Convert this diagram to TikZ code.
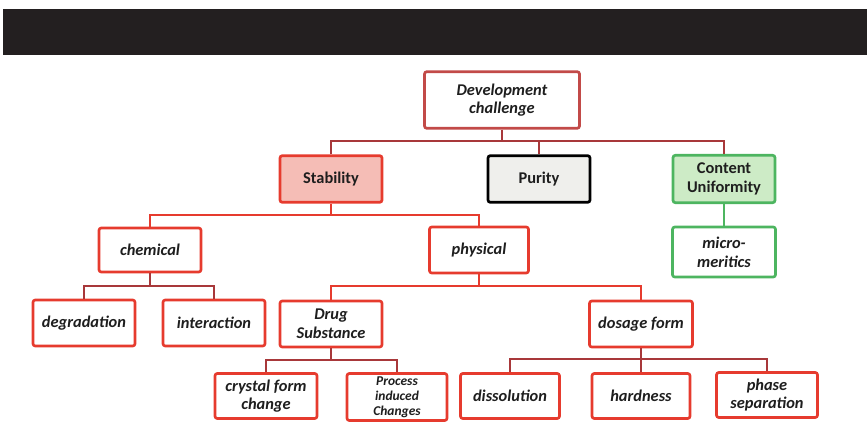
\documentclass[tikz,border=0pt]{standalone}
\usepackage{fontspec}
\setmainfont{Carlito}
\usepackage{tikz}
\usetikzlibrary{positioning}

\definecolor{boxred}{HTML}{E63B2E}
\definecolor{linedark}{HTML}{A8383A}
\definecolor{devred}{HTML}{C24A48}
\definecolor{stabfill}{HTML}{F5BDB6}
\definecolor{purfill}{HTML}{EFEFEC}
\definecolor{cugreen}{HTML}{4DB560}
\definecolor{cufill}{HTML}{CDEBC6}
\definecolor{barblack}{HTML}{231F20}
\definecolor{txt}{HTML}{1E1E1E}

\begin{document}
\begin{tikzpicture}[x=0.03cm, y=-0.03cm,
    every node/.style={rectangle, rounded corners=2pt, line width=2.3pt, align=center, inner sep=2pt,
        text=txt, font=\fontsize{14}{16}\selectfont\bfseries\itshape},
    redbox/.style={draw=boxred, fill=white, minimum width=3.06cm, minimum height=1.38cm},
    topbox/.style={minimum width=3.06cm, minimum height=1.4cm, font=\fontsize{14}{16}\selectfont\bfseries},
    redline/.style={draw=boxred, line width=2.3pt},
    darkline/.style={draw=linedark, line width=2.3pt},
    greenline/.style={draw=cugreen, line width=2.3pt}]

    \useasboundingbox (0,0) rectangle (867,424);

    % Header bar
    \fill[barblack] (3,9) rectangle (867,55);

    % Root
    \node (dev)[draw=devred, fill=white, minimum width=4.65cm, minimum height=1.7cm] at (502,100) {Development\\challenge};

    % Main challenges
    \node (stab)[topbox, draw=boxred, fill=stabfill] at (331,179) {Stability};
    \node (pur)[topbox, draw=black, fill=purfill] at (539,179) {Purity};
    \node (cu)[topbox, draw=cugreen, fill=cufill, minimum height=1.42cm] at (724,179) {Content\\Uniformity};
    \node (micro)[draw=cugreen, fill=white, minimum width=3.09cm, minimum height=1.5cm] at (724,252) {micro-\\meritics};

    % Stability branches
    \node (chem)[redbox, minimum height=1.32cm] at (150,250) {chemical};
    \node (phys)[redbox, minimum width=2.97cm] at (479,250) {physical};

    \node (degr)[redbox] at (84,323) {degradation};
    \node (inter)[redbox] at (214,323) {interaction};
    \node (drug)[redbox] at (331,324) {Drug\\Substance};
    \node (dose)[redbox, minimum width=3.09cm] at (641,324) {dosage form};

    % Bottom row
    \node (cryst)[redbox, minimum height=1.35cm] at (266,396) {crystal form\\change};
    \node (proc)[redbox, minimum width=3cm, minimum height=1.41cm, inner sep=0pt,
        font=\fontsize{11.5}{13}\selectfont\bfseries\itshape] at (397,397) {Process\\induced\\Changes};
    \node (diss)[redbox, minimum width=2.97cm, minimum height=1.35cm] at (510,396) {dissolution};
    \node (hard)[redbox, minimum width=2.94cm, minimum height=1.35cm] at (641,396) {hardness};
    \node (phase)[redbox, minimum width=3.03cm, minimum height=1.35cm] at (767,395) {phase\\separation};

    % Junctions
    \coordinate (j1) at (502,141);
    \coordinate (j2) at (331,215);
    \coordinate (j3) at (150,286);
    \coordinate (j4) at (479,286);
    \coordinate (j5) at (331,360);
    \coordinate (j6) at (641,359);

    % Edges for the root
    \draw[darkline] (dev) -- (j1);
    \draw[darkline] (stab) |- (j1) -| (cu);
    \draw[darkline] (pur) -- (pur |- j1);
    \draw[greenline] (cu) -- (micro);

    % Edges for stability
    \draw[redline] (stab) -- (j2);
    \draw[redline] (chem) |- (j2) -| (phys);

    \draw[darkline] (chem) -- (j3);
    \draw[darkline] (degr) |- (j3) -| (inter);

    \draw[redline] (phys) -- (j4);
    \draw[redline] (drug) |- (j4) -| (dose);

    \draw[darkline] (drug) -- (j5);
    \draw[darkline] (cryst) |- (j5) -| (proc);

    \draw[darkline] (dose) -- (j6);
    \draw[darkline] (diss) |- (j6) -| (phase);
    \draw[darkline] (j6) -- (hard);
\end{tikzpicture}
\end{document}
